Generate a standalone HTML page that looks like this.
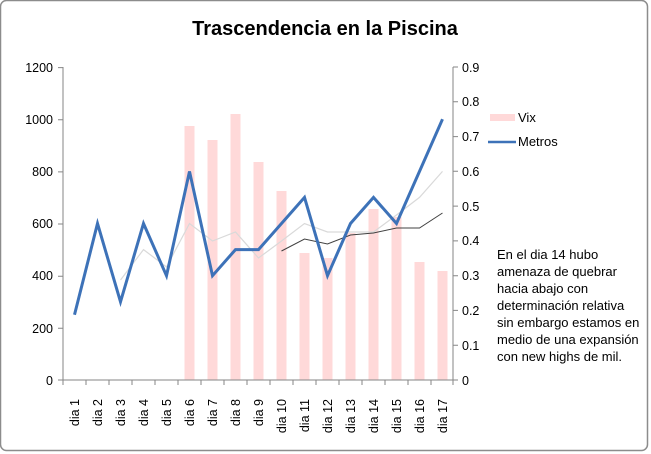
<!DOCTYPE html>
<html><head><meta charset="utf-8"><style>
body{margin:0;background:#fff;}
svg{display:block;font-family:"Liberation Sans",sans-serif;}
</style></head><body>
<svg width="651" height="454" viewBox="0 0 651 454">
<rect x="0.5" y="0.5" width="647" height="450" rx="6" fill="#fff" stroke="#8c8c8c" stroke-width="1.5"/>
<text x="325" y="35" text-anchor="middle" font-size="20" font-weight="bold" font-family="Liberation Sans,sans-serif">Trascendencia en la Piscina</text>
<g fill="#ffd9d9">
<rect x="184.5" y="126" width="10" height="254"/>
<rect x="207.5" y="140" width="10" height="240"/>
<rect x="230.5" y="114" width="10" height="266"/>
<rect x="253.5" y="162" width="10" height="218"/>
<rect x="276.5" y="191" width="10" height="189"/>
<rect x="299.5" y="253" width="10" height="127"/>
<rect x="322.5" y="258" width="10" height="122"/>
<rect x="345.5" y="233" width="10" height="147"/>
<rect x="368.5" y="209" width="10" height="171"/>
<rect x="391.5" y="217" width="10" height="163"/>
<rect x="414.5" y="262" width="10" height="118"/>
<rect x="437.5" y="271" width="10" height="109"/>
</g>
<g stroke="#868686" stroke-width="1" fill="none">
<line x1="63" y1="67" x2="63" y2="380"/>
<line x1="453" y1="67" x2="453" y2="380"/>
<line x1="58" y1="380" x2="458" y2="380"/>
<path d="M58 67.6H63M58 119.7H63M58 171.9H63M58 224H63M58 276.2H63M58 328.3H63"/>
<path d="M453 67H458M453 101.8H458M453 136.6H458M453 171.3H458M453 206.1H458M453 240.9H458M453 275.7H458M453 310.4H458M453 345.2H458"/>
<path d="M63 380v5M86 380v5M109 380v5M132 380v5M155 380v5M178 380v5M201 380v5M224 380v5M247 380v5M270 380v5M293 380v5M316 380v5M339 380v5M362 380v5M385 380v5M408 380v5M431 380v5M453 380v5"/>
</g>
<g font-size="12.5" fill="#000" text-anchor="end">
<text x="53" y="72">1200</text><text x="53" y="124">1000</text><text x="53" y="176">800</text><text x="53" y="228">600</text><text x="53" y="280">400</text><text x="53" y="333">200</text><text x="53" y="385">0</text>
</g>
<g font-size="12.5" fill="#000">
<text x="462" y="72">0.9</text><text x="462" y="106">0.8</text><text x="462" y="141">0.7</text><text x="462" y="176">0.6</text><text x="462" y="211">0.5</text><text x="462" y="245">0.4</text><text x="462" y="280">0.3</text><text x="462" y="315">0.2</text><text x="462" y="350">0.1</text><text x="462" y="385">0</text>
</g>
<g font-size="12.5" fill="#000" text-anchor="end">
<text transform="translate(79,399) rotate(-90)">dia 1</text>
<text transform="translate(102,399) rotate(-90)">dia 2</text>
<text transform="translate(125,399) rotate(-90)">dia 3</text>
<text transform="translate(148,399) rotate(-90)">dia 4</text>
<text transform="translate(171,399) rotate(-90)">dia 5</text>
<text transform="translate(194,399) rotate(-90)">dia 6</text>
<text transform="translate(217,399) rotate(-90)">dia 7</text>
<text transform="translate(240,399) rotate(-90)">dia 8</text>
<text transform="translate(263,399) rotate(-90)">dia 9</text>
<text transform="translate(286,399) rotate(-90)">dia 10</text>
<text transform="translate(309,399) rotate(-90)">dia 11</text>
<text transform="translate(332,399) rotate(-90)">dia 12</text>
<text transform="translate(355,399) rotate(-90)">dia 13</text>
<text transform="translate(378,399) rotate(-90)">dia 14</text>
<text transform="translate(401,399) rotate(-90)">dia 15</text>
<text transform="translate(424,399) rotate(-90)">dia 16</text>
<text transform="translate(447,399) rotate(-90)">dia 17</text>
</g>
<polyline fill="none" stroke="#d9d9d9" stroke-width="1.2" points="120.5,280 143.5,249.6 166.5,267 189.5,223.5 212.5,241 235.5,232 258.5,258 281.5,241 304.5,223.5 327.5,232 350.5,232 373.5,232 396.5,215 419.5,197.4 442.5,171.4"/>
<polyline fill="none" stroke="#404040" stroke-width="1" points="281.5,251 304.5,239 327.5,244 350.5,235 373.5,233 396.5,228 419.5,228 442.5,213"/>
<polyline fill="none" stroke="#3d72b8" stroke-width="3" stroke-linejoin="miter" points="74.5,314.8 97.5,223.5 120.5,301.8 143.5,223.5 166.5,275.7 189.5,171.4 212.5,275.7 235.5,249.6 258.5,249.6 281.5,223.5 304.5,197.4 327.5,275.7 350.5,223.5 373.5,197.4 396.5,223.5 419.5,171.4 442.5,119.2"/>
<rect x="490" y="114" width="25" height="7" fill="#ffd9d9"/>
<text x="518" y="122" font-size="13">Vix</text>
<line x1="488" y1="142" x2="516" y2="142" stroke="#3d72b8" stroke-width="2.5"/>
<text x="518" y="146" font-size="13">Metros</text>
<g font-size="13" fill="#000">
<text x="497" y="259">En el dia 14 hubo</text>
<text x="497" y="276">amenaza de quebrar</text>
<text x="497" y="293">hacia abajo con</text>
<text x="497" y="310">determinación relativa</text>
<text x="497" y="327">sin embargo estamos en</text>
<text x="497" y="344">medio de una expansión</text>
<text x="497" y="361">con new highs de mil.</text>
</g>
</svg>
</body></html>
